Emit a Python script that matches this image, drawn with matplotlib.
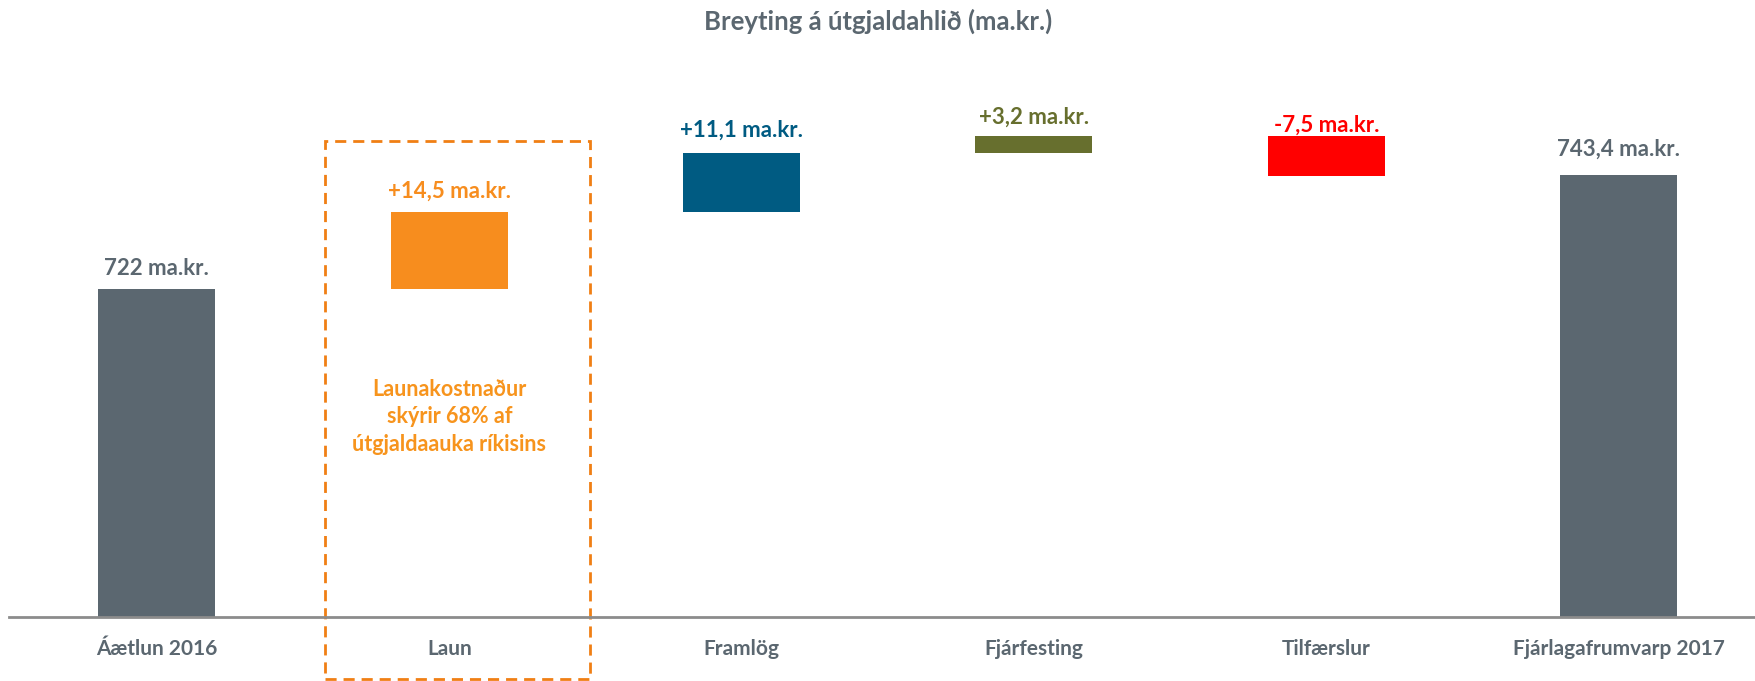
import matplotlib
matplotlib.use("Agg")
import matplotlib.pyplot as plt
from matplotlib.patches import Rectangle
import numpy as np

plt.rcParams['font.family'] = ['Lato', 'DejaVu Sans']

# ---- data ----
categories = ["Áætlun 2016", "Laun", "Framlög", "Fjárfesting", "Tilfærslur", "Fjárlagafrumvarp 2017"]
start_total = 722.0
changes = [14.5, 11.1, 3.2, -7.5]
end_total = 743.4
value_labels = ["722 ma.kr.", "+14,5 ma.kr.", "+11,1 ma.kr.", "+3,2 ma.kr.", "-7,5 ma.kr.", "743,4 ma.kr."]
title = "Breyting á útgjaldahlið (ma.kr.)"
note = "Launakostnaður\nskýrir 68% af\nútgjaldaauka ríkisins"

# ---- style ----
gray = "#5b6770"
colors = [gray, "#f78d1e", "#005b82", "#676f2e", "#ff0000", gray]
label_colors = [gray, "#f78d1e", "#005b82", "#676f2e", "#ff0000", gray]
label_offsets = [7, 7, 9, 6, 0, 11]  # points

y_floor = 660.5

fig = plt.figure(figsize=(17.56, 6.81), dpi=100)
ax = fig.add_axes([9 / 1756, 64 / 681, 1 - 9 / 1756, 557 / 681])
ax.set_xlim(-0.506, 5.47)
ax.set_ylim(y_floor, y_floor + 557 / 5.33)

# waterfall geometry
x = np.arange(len(categories))
cum = start_total + np.cumsum([0] + changes)  # levels before each change
bottoms = [0.0]
heights = [start_total]
for i, c in enumerate(changes):
    lo = min(cum[i], cum[i] + c)
    bottoms.append(lo)
    heights.append(abs(c))
bottoms.append(0.0)
heights.append(end_total)
tops = [b + h for b, h in zip(bottoms, heights)]

ax.bar(x, heights, bottom=bottoms, width=0.4, color=colors, edgecolor='none', zorder=2)

for xi, t, lab, col, off in zip(x, tops, value_labels, label_colors, label_offsets):
    ax.annotate(lab, xy=(xi, t), xytext=(0, off), textcoords='offset points',
                ha='center', va='bottom', fontsize=16, fontweight='bold', color=col)

# note text inside dashed box
ax.text(1, 698.1, note, ha='center', va='center', fontsize=15.5, fontweight='bold',
        color="#f7941d", linespacing=1.38)

# dashed box around "Laun"
box = Rectangle((0.574, 648.9), 1.48 - 0.574, 749.8 - 648.9, fill=False,
                edgecolor="#f07f14", linewidth=2, linestyle=(0, (4, 2.5)),
                clip_on=False, zorder=3)
ax.add_patch(box)

# axes styling
for s in ['top', 'right', 'left']:
    ax.spines[s].set_visible(False)
ax.spines['bottom'].set_color("#8c8c8c")
ax.spines['bottom'].set_linewidth(2)
ax.spines['bottom'].set_zorder(4)
ax.set_yticks([])
ax.set_xticks(x)
ax.set_xticklabels(categories, fontsize=15, fontweight='bold', color=gray)
ax.tick_params(axis='x', length=0, pad=16)

fig.text(0.5, 1 - 21 / 681, title, ha='center', va='center', fontsize=18.5,
         fontweight='bold', color=gray)

fig.savefig("out.png", dpi=100)
